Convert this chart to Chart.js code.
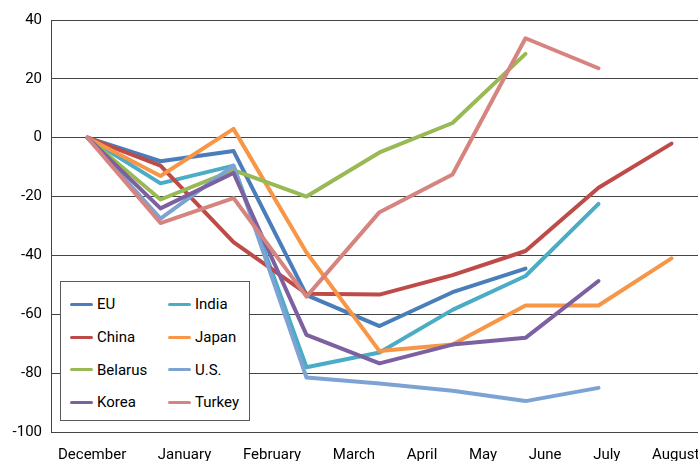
<!DOCTYPE html>
<html>
<head>
<meta charset="utf-8">
<script src="https://cdn.jsdelivr.net/npm/chart.js@4/dist/chart.umd.min.js"></script>
<style>
    html, body { margin: 0; padding: 0; background: #fff; overflow: hidden; }
    #wrap { position: relative; width: 698px; height: 461px; overflow: hidden; }
    #chart { position: absolute; left: 0; top: 0; }
    #legend {
        position: absolute; left: 60px; top: 281px; width: 190px; height: 140px;
        border: 1.5px solid #5a5a5a; background: #fff;
        display: grid; grid-template-columns: 98px 92px; grid-template-rows: repeat(4, 32.7px);
        grid-auto-flow: column; padding: 6px 0 0 9px; box-sizing: border-box;
        font: 400 15px Roboto, sans-serif; color: #000;
    }
    .item { display: flex; align-items: center; white-space: nowrap; }
    .swatch { width: 23px; height: 3px; border-radius: 2px; margin-right: 4px; }
</style>
</head>
<body>
<div id="wrap">
    <canvas id="chart" width="708" height="461"></canvas>
    <div id="legend"></div>
</div>
<script>
const months = ['December', 'January', 'February', 'March', 'April', 'May', 'June', 'July', 'August'];
const yTicks = { min: -100, max: 40, step: 20 };

const eu      = [0, -8, -4.5, -53.5, -64, -52.5, -44.5];
const india   = [0, -15.5, -9.5, -78, -73, -58.5, -47, -22.5];
const china   = [0, -9.5, -35.5, -53, -53.3, -46.7, -38.5, -17, -2];
const japan   = [0, -13, 3, -39, -72.5, -70.3, -57, -57, -41];
const belarus = [0, -21, -11, -20, -5, 5, 28.5];
const us      = [0, -27.5, -9.5, -81.5, -83.5, -86, -89.5, -85];
const korea   = [0, -24, -12, -67, -76.7, -70.3, -68, -48.7];
const turkey  = [0, -29, -20.5, -54, -25.3, -12.5, 33.8, 23.6];

// legend order: column by column
const legendOrder = ['EU', 'China', 'Belarus', 'Korea', 'India', 'Japan', 'U.S.', 'Turkey'];

const series = [
    { label: 'EU', data: eu, color: '#4A7EBB' },
    { label: 'India', data: india, color: '#4BACC6' },
    { label: 'China', data: china, color: '#BE4B48' },
    { label: 'Japan', data: japan, color: '#F79646' },
    { label: 'Belarus', data: belarus, color: '#98B954' },
    { label: 'U.S.', data: us, color: '#7DA3D4' },
    { label: 'Korea', data: korea, color: '#7D60A0' },
    { label: 'Turkey', data: turkey, color: '#D6847F' }
];

const FONT = { family: 'Roboto', size: 15, weight: '400' };

// x labels in the reference sit in a run with even gaps, not under the points
const xLabels = {
    id: 'xLabels',
    afterDraw(chart) {
        const ctx = chart.ctx;
        const labels = chart.scales.x.getLabels();
        ctx.save();
        ctx.font = '400 15px Roboto';
        ctx.fillStyle = '#000';
        ctx.textAlign = 'left';
        ctx.textBaseline = 'alphabetic';
        let x = chart.chartArea.left + 7;
        labels.forEach(l => {
            ctx.fillText(l, x, 459);
            x += ctx.measureText(l).width + 31.6;
        });
        ctx.restore();
    }
};

function initChart() {
    const ctx = document.getElementById('chart').getContext('2d');
    return new Chart(ctx, {
        type: 'line',
        data: {
            labels: months,
            datasets: series.map((s, i) => ({
                label: s.label,
                data: s.data,
                borderColor: s.color,
                backgroundColor: s.color,
                borderWidth: 4,
                borderCapStyle: 'round',
                borderJoinStyle: 'round',
                pointRadius: 0,
                tension: 0,
                fill: false,
                order: series.length - i
            }))
        },
        options: {
            responsive: false,
            animation: false,
            layout: { padding: { top: 20, bottom: 29, left: 0, right: 0 } },
            plugins: { legend: { display: false }, tooltip: { enabled: false } },
            scales: {
                x: {
                    offset: true,
                    grid: { display: false },
                    border: { display: false },
                    ticks: { display: false },
                    afterFit: s => { s.height = 0; }
                },
                y: {
                    min: yTicks.min,
                    max: yTicks.max,
                    ticks: { stepSize: yTicks.step, color: '#000', font: FONT, padding: 9 },
                    grid: { color: '#444', lineWidth: 1, drawTicks: false },
                    border: { display: true, color: '#444', width: 1 },
                    afterFit: s => { s.width = 51; }
                }
            }
        },
        plugins: [xLabels]
    });
}

function buildLegend(chart) {
    const box = document.getElementById('legend');
    legendOrder.forEach(name => {
        const ds = chart.data.datasets.find(d => d.label === name);
        const item = document.createElement('div');
        item.className = 'item';
        item.innerHTML = `<span class="swatch" style="background:${ds.borderColor}"></span><span>${ds.label}</span>`;
        box.appendChild(item);
    });
}

const chart = initChart();
buildLegend(chart);
</script>
</body>
</html>
